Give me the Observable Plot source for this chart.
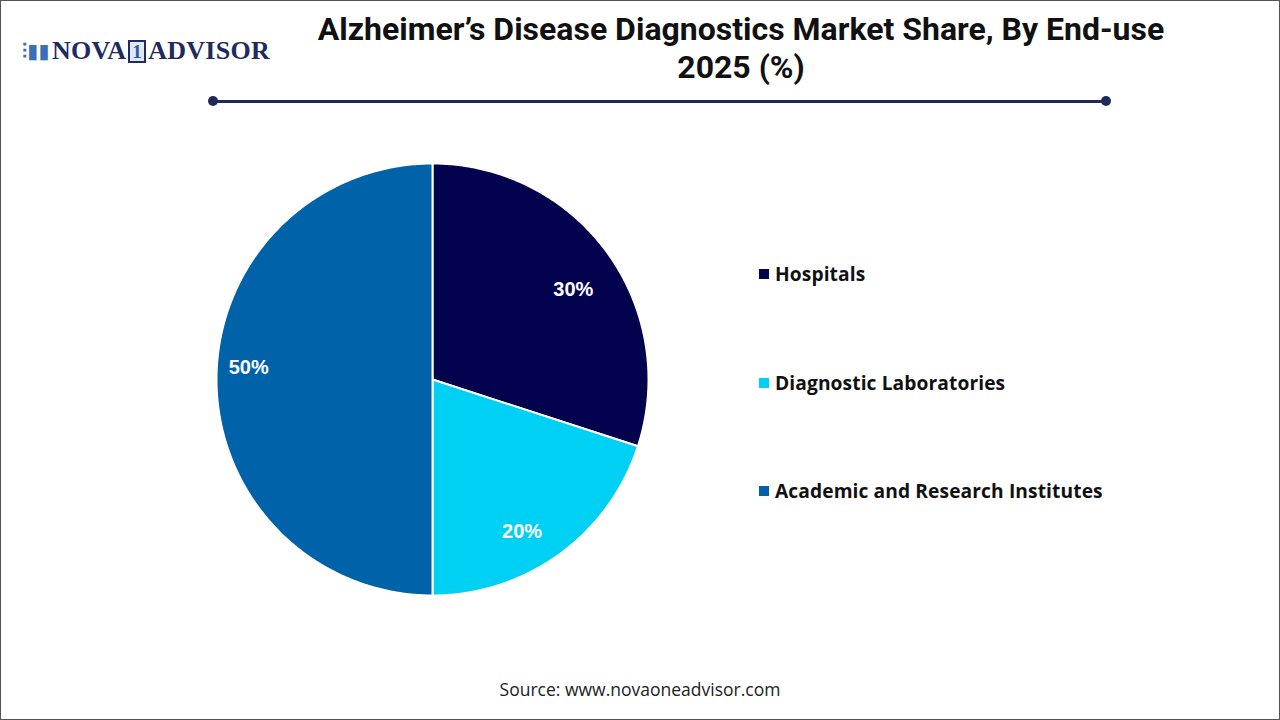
<!DOCTYPE html>
<html>
<head>
<meta charset="utf-8">
<script src="https://cdn.jsdelivr.net/npm/d3@7"></script>
<script src="https://cdn.jsdelivr.net/npm/@observablehq/plot@0.6"></script>
<style>
  html, body { margin: 0; padding: 0; background: #fff; }
  #root { position: relative; width: 1278px; height: 718px; border: 1px solid #555; overflow: hidden; font-family: "Open Sans", sans-serif; }
  #logo { position: absolute; left: 21px; top: 35px; font-family: "Liberation Serif", "DejaVu Serif", serif; font-weight: bold; font-size: 26px; color: #1f2a5e; letter-spacing: 0.3px; display: flex; align-items: center; }
  #logo .one { display: inline-block; border: 2px solid #1f2a5e; background: #dfe8f5; color: #2b5aa0; font-size: 19px; line-height: 19px; padding: 0 2px; margin: 0 2px; }
  #title { position: absolute; left: 240px; width: 1000px; top: 9px; text-align: center; font-family: Roboto, sans-serif; font-weight: bold; font-size: 32px; line-height: 38px; color: #111; }
  #rule { position: absolute; left: 212px; top: 98.5px; width: 893px; height: 3px; background: #1e2a5a; }
  .dot { position: absolute; top: 95px; width: 10px; height: 10px; border-radius: 50%; background: #1e2a5a; }
  #pie { position: absolute; left: 211px; top: 158px; }
  #legend { position: absolute; left: 758px; top: 0; }
  .li { position: absolute; left: 0; white-space: nowrap; font-family: "Open Sans", sans-serif; font-weight: bold; font-size: 19.2px; letter-spacing: 0.1px; color: #111; display: flex; align-items: center; }
  .sw { width: 10px; height: 10px; margin-right: 6px; display: inline-block; }
  #source { position: absolute; left: -1px; width: 1280px; top: 676px; text-align: center; font-family: "Open Sans", sans-serif; font-size: 17.5px; color: #222; }
</style>
</head>
<body>
<div id="root">
  <div id="logo"><span style="color:#3a6fb5;font-size:20px;margin-right:2px;">⫶▮▮</span>NOVA<span class="one">1</span>ADVISOR</div>
  <div id="title">Alzheimer’s Disease Diagnostics Market Share, By End-use<br>2025 (%)</div>
  <div id="rule"></div>
  <div class="dot" style="left:207px"></div>
  <div class="dot" style="left:1100px"></div>
  <div id="pie"></div>
  <div id="legend"></div>
  <div id="source">Source: www.novaoneadvisor.com</div>
</div>
<script>
const categories = ["Hospitals", "Diagnostic Laboratories", "Academic and Research Institutes"];
const shares = [30, 20, 50];
const colors = ["#03024f", "#00d0f4", "#0062a9"];
const labels = ["30%", "20%", "50%"];

const data = categories.map((c, i) => ({category: c, value: shares[i], label: labels[i]}));
const arcs = d3.pie().value(d => d.value).sort(null)(data);

// Build wedge outlines (in unit-circle coordinates) from the pie angles
const wedgePoints = [];
arcs.forEach(a => {
  const n = Math.max(8, Math.ceil((a.endAngle - a.startAngle) / 0.01));
  wedgePoints.push({category: a.data.category, x: 0, y: 0});
  for (let k = 0; k <= n; k++) {
    const t = a.startAngle + (a.endAngle - a.startAngle) * k / n;
    wedgePoints.push({category: a.data.category, x: Math.sin(t), y: Math.cos(t)});
  }
  wedgePoints.push({category: a.data.category, x: 0, y: 0});
});
const labelPoints = arcs.map(a => {
  const m = (a.startAngle + a.endAngle) / 2;
  const r = 0.8;
  return {label: a.data.label, x: Math.sin(m) * r, y: Math.cos(m) * r};
});
// small best-fit style nudges (pixels) for label placement
const nudge = [[1, 12], [-12, 12], [-11, -12]];

const size = 440;
const chart = Plot.plot({
  width: size, height: size, margin: 4,
  x: {domain: [-1, 1], axis: null},
  y: {domain: [-1, 1], axis: null},
  color: {domain: categories, range: colors},
  marks: [
    Plot.line(wedgePoints, {x: "x", y: "y", z: "category", fill: "category", stroke: "white", strokeWidth: 2, strokeLinejoin: "round", curve: "linear"}),
    ...labelPoints.map((p, i) => Plot.text([p], {x: "x", y: "y", text: "label", dx: nudge[i][0], dy: nudge[i][1], fill: "white", fontSize: 20, fontWeight: "bold", fontFamily: "Liberation Sans, Arial, sans-serif"}))
  ]
});
document.getElementById("pie").appendChild(chart);

const legendY = [274, 383, 491];
const legend = document.getElementById("legend");
categories.forEach((c, i) => {
  const el = document.createElement("div");
  el.className = "li";
  el.style.top = (legendY[i] - 15) + "px";
  el.innerHTML = `<span class="sw" style="background:${colors[i]}"></span>${c}`;
  legend.appendChild(el);
});
</script>
</body>
</html>
